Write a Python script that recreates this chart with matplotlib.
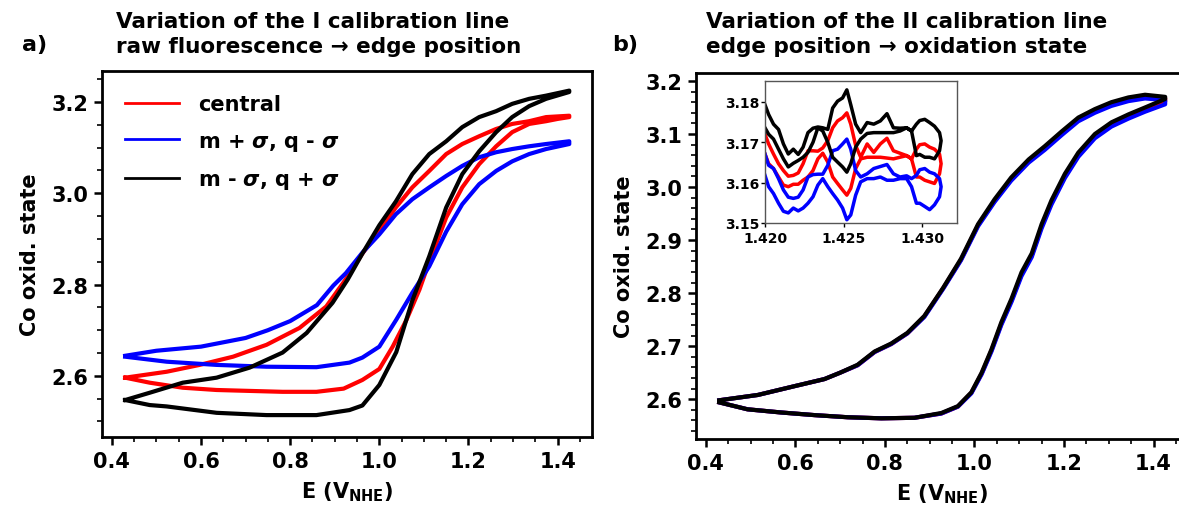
import numpy as np
import matplotlib
matplotlib.use("Agg")
import matplotlib.pyplot as plt
from matplotlib.ticker import MultipleLocator, FormatStrFormatter

plt.rcParams['font.family'] = ['DejaVu Sans']
plt.rcParams['font.weight'] = 'bold'
plt.rcParams['mathtext.fontset'] = 'custom'
plt.rcParams['mathtext.it'] = 'DejaVu Sans:bold:italic'
plt.rcParams['mathtext.bf'] = 'DejaVu Sans:bold'
plt.rcParams['mathtext.rm'] = 'DejaVu Sans:bold'

# ---------------- panel a: I calibration line ----------------
# forward branch (lower), then return branch (upper)
a_red_x = [0.43, 0.485, 0.559, 0.635, 0.709, 0.783, 0.859, 0.92, 0.962, 1.0, 1.03, 1.061,
           1.09, 1.112, 1.15, 1.186, 1.224, 1.262, 1.298, 1.336, 1.374, 1.40, 1.426,
           1.426, 1.374, 1.336, 1.298, 1.262, 1.224, 1.186, 1.15, 1.112, 1.074, 1.037,
           1.0, 0.962, 0.925, 0.881, 0.821, 0.747, 0.672, 0.597, 0.523, 0.43]
a_red_y = [2.596, 2.585, 2.574, 2.569, 2.567, 2.565, 2.565, 2.572, 2.591, 2.615, 2.664, 2.723,
           2.789, 2.850, 2.947, 3.013, 3.064, 3.103, 3.134, 3.152, 3.158, 3.163, 3.167,
           3.170, 3.167, 3.158, 3.152, 3.141, 3.125, 3.108, 3.086, 3.049, 3.013, 2.969,
           2.918, 2.868, 2.812, 2.752, 2.705, 2.668, 2.642, 2.624, 2.609, 2.596]

a_blue_x = [0.43, 0.523, 0.635, 0.747, 0.859, 0.933, 0.962, 1.0, 1.038, 1.074, 1.112, 1.15,
            1.186, 1.224, 1.262, 1.298, 1.336, 1.374, 1.426,
            1.426, 1.374, 1.336, 1.298, 1.262, 1.224, 1.186, 1.15, 1.112, 1.074, 1.037,
            1.0, 0.962, 0.925, 0.897, 0.86, 0.80, 0.75, 0.70, 0.60, 0.50, 0.43]
a_blue_y = [2.642, 2.631, 2.624, 2.620, 2.619, 2.629, 2.640, 2.664, 2.723, 2.782, 2.840, 2.916,
            2.976, 3.020, 3.049, 3.070, 3.086, 3.097, 3.108,
            3.114, 3.108, 3.103, 3.097, 3.090, 3.079, 3.060, 3.038, 3.013, 2.987, 2.954,
            2.910, 2.870, 2.825, 2.798, 2.755, 2.720, 2.700, 2.683, 2.664, 2.655, 2.644]

a_black_x = [0.43, 0.485, 0.523, 0.635, 0.747, 0.859, 0.933, 0.962, 1.0, 1.038, 1.074, 1.112,
             1.15, 1.186, 1.224, 1.262, 1.298, 1.336, 1.374, 1.426,
             1.426, 1.374, 1.336, 1.298, 1.262, 1.224, 1.186, 1.15, 1.112, 1.074, 1.037,
             1.0, 0.962, 0.929, 0.895, 0.837, 0.783, 0.709, 0.635, 0.559, 0.485, 0.43]
a_black_y = [2.547, 2.536, 2.533, 2.519, 2.514, 2.514, 2.525, 2.535, 2.580, 2.652, 2.765, 2.862,
             2.969, 3.042, 3.092, 3.134, 3.167, 3.191, 3.207, 3.222,
             3.225, 3.214, 3.207, 3.196, 3.180, 3.167, 3.145, 3.114, 3.086, 3.042, 2.982,
             2.930, 2.868, 2.811, 2.760, 2.694, 2.651, 2.618, 2.596, 2.585, 2.563, 2.547]

# ---------------- panel b: II calibration line ----------------
b_x = [0.43, 0.493, 0.568, 0.643, 0.717, 0.792, 0.866, 0.926, 0.963, 0.993, 1.016, 1.038,
       1.060, 1.083, 1.105, 1.128, 1.15, 1.172, 1.202, 1.232, 1.269, 1.306, 1.344, 1.381, 1.426,
       1.426, 1.381, 1.344, 1.306, 1.269, 1.232, 1.195, 1.157, 1.121, 1.082, 1.045, 1.008,
       0.970, 0.930, 0.888, 0.850, 0.814, 0.777, 0.739, 0.700, 0.665, 0.600, 0.516, 0.430]
b_black_y = [2.594, 2.581, 2.575, 2.570, 2.566, 2.564, 2.565, 2.574, 2.587, 2.613, 2.650, 2.694,
             2.745, 2.790, 2.839, 2.875, 2.930, 2.975, 3.025, 3.065, 3.100, 3.122, 3.137, 3.150, 3.166,
             3.170, 3.174, 3.169, 3.160, 3.147, 3.131, 3.105, 3.077, 3.052, 3.018, 2.977, 2.930,
             2.865, 2.810, 2.757, 2.725, 2.705, 2.690, 2.665, 2.650, 2.638, 2.625, 2.608, 2.598]
b_red_y = [2.594, 2.581, 2.575, 2.570, 2.566, 2.564, 2.565, 2.573, 2.586, 2.612, 2.648, 2.692,
           2.742, 2.787, 2.835, 2.871, 2.926, 2.971, 3.021, 3.061, 3.096, 3.118, 3.133, 3.146, 3.161,
           3.167, 3.170, 3.165, 3.156, 3.143, 3.127, 3.101, 3.073, 3.049, 3.015, 2.974, 2.928,
           2.863, 2.809, 2.756, 2.724, 2.704, 2.689, 2.664, 2.650, 2.638, 2.625, 2.608, 2.598]
b_blue_y = [2.594, 2.581, 2.575, 2.570, 2.566, 2.564, 2.565, 2.573, 2.586, 2.611, 2.647, 2.690,
            2.740, 2.784, 2.832, 2.868, 2.922, 2.967, 3.017, 3.057, 3.092, 3.114, 3.129, 3.142, 3.156,
            3.164, 3.167, 3.162, 3.153, 3.140, 3.124, 3.098, 3.070, 3.046, 3.012, 2.972, 2.926,
            2.862, 2.808, 2.755, 2.724, 2.704, 2.689, 2.664, 2.650, 2.638, 2.625, 2.608, 2.598]

# ---------------- inset: zoom on the turning point ----------------
ins_x = [1.42000, 1.42023, 1.42054, 1.42086, 1.42117, 1.42148, 1.42180, 1.42211, 1.42242, 1.42273,
         1.42305, 1.42336, 1.42367, 1.42399, 1.42430, 1.42461, 1.42493, 1.42520, 1.42545, 1.42576,
         1.42608, 1.42649, 1.42691, 1.42733, 1.42775, 1.42816, 1.42858, 1.42900, 1.42931, 1.42962,
         1.42983, 1.43015, 1.43046, 1.43077, 1.43109, 1.43119, 1.43109, 1.43077, 1.43046, 1.43015,
         1.42983, 1.42962,
         1.42931, 1.42900, 1.42858, 1.42816, 1.42775, 1.42733, 1.42691, 1.42649, 1.42608, 1.42576,
         1.42545, 1.42520, 1.42493, 1.42461, 1.42430, 1.42399, 1.42367, 1.42336, 1.42305, 1.42273,
         1.42242, 1.42211, 1.42180, 1.42148, 1.42117, 1.42086, 1.42054, 1.42023, 1.42000]
ins_black_y = [3.1736, 3.1720, 3.1708, 3.1683, 3.1659, 3.1639, 3.1648, 3.1655, 3.1663, 3.1675,
               3.1700, 3.1736, 3.1728, 3.1700, 3.1663, 3.1651, 3.1639, 3.1626, 3.1647, 3.1688,
               3.1708, 3.1722, 3.1724, 3.1724, 3.1724, 3.1724, 3.1728, 3.1736, 3.1728, 3.1667,
               3.1670, 3.1663, 3.1663, 3.1659, 3.1679, 3.1704, 3.1724, 3.1740, 3.1749, 3.1757,
               3.1754, 3.1745,
               3.1728, 3.1736, 3.1735, 3.1736, 3.1771, 3.1753, 3.1745, 3.1749, 3.1724, 3.1745,
               3.1793, 3.1830, 3.1810, 3.1802, 3.1785, 3.1732, 3.1736, 3.1738, 3.1735, 3.1724,
               3.1688, 3.1670, 3.1683, 3.1671, 3.1696, 3.1732, 3.1745, 3.1769, 3.1793]
ins_red_y = [3.1671, 3.1647, 3.1635, 3.1614, 3.1594, 3.1590, 3.1596, 3.1596, 3.1606, 3.1614,
             3.1630, 3.1659, 3.1673, 3.1651, 3.1614, 3.1598, 3.1582, 3.1569, 3.1586, 3.1635,
             3.1659, 3.1663, 3.1663, 3.1663, 3.1661, 3.1659, 3.1663, 3.1667, 3.1659, 3.1614,
             3.1614, 3.1606, 3.1602, 3.1598, 3.1622, 3.1647, 3.1671, 3.1683, 3.1688, 3.1696,
             3.1694, 3.1683,
             3.1659, 3.1667, 3.1673, 3.1679, 3.1710, 3.1696, 3.1675, 3.1696, 3.1663, 3.1692,
             3.1745, 3.1773, 3.1761, 3.1753, 3.1736, 3.1704, 3.1686, 3.1678, 3.1679, 3.1679,
             3.1647, 3.1624, 3.1618, 3.1616, 3.1630, 3.1647, 3.1671, 3.1696, 3.1720]
ins_blue_y = [3.1618, 3.1590, 3.1573, 3.1549, 3.1529, 3.1525, 3.1537, 3.1530, 3.1537, 3.1549,
              3.1565, 3.1594, 3.1610, 3.1590, 3.1573, 3.1557, 3.1537, 3.1508, 3.1520, 3.1569,
              3.1602, 3.1610, 3.1610, 3.1614, 3.1606, 3.1606, 3.1610, 3.1610, 3.1590, 3.1549,
              3.1549, 3.1541, 3.1533, 3.1545, 3.1565, 3.1590, 3.1610, 3.1622, 3.1626, 3.1635,
              3.1632, 3.1618,
              3.1610, 3.1617, 3.1614, 3.1622, 3.1645, 3.1640, 3.1635, 3.1622, 3.1614, 3.1630,
              3.1683, 3.1708, 3.1696, 3.1683, 3.1679, 3.1643, 3.1621, 3.1621, 3.1620, 3.1614,
              3.1582, 3.1564, 3.1561, 3.1564, 3.1582, 3.1610, 3.1635, 3.1643, 3.1671]

labels = ["central", r"m + $\sigma$, q - $\sigma$", r"m - $\sigma$, q + $\sigma$"]
colors = ["#ff0000", "#0000ff", "#000000"]

W, H = 1179, 510
fig = plt.figure(figsize=(W / 100, H / 100), dpi=100)
ax_a = fig.add_axes([102 / W, 1 - 438 / H, 490 / W, 366 / H])
ax_b = fig.add_axes([696 / W, 1 - 440 / H, 492 / W, 366 / H])


def style_main(ax, ymajor, yminor):
    ax.xaxis.set_major_locator(MultipleLocator(0.2))
    ax.xaxis.set_minor_locator(MultipleLocator(0.05))
    ax.yaxis.set_major_locator(MultipleLocator(ymajor))
    ax.yaxis.set_minor_locator(MultipleLocator(yminor))
    ax.xaxis.set_major_formatter(FormatStrFormatter('%.1f'))
    ax.yaxis.set_major_formatter(FormatStrFormatter('%.1f'))
    ax.tick_params(which='major', length=6, width=1.8, labelsize=15, pad=4)
    ax.tick_params(which='minor', length=3.5, width=1.2)
    for s in ax.spines.values():
        s.set_linewidth(2)
    ax.set_xlabel(r"E (V$_{\mathbf{NHE}}$)", fontsize=15, fontweight='bold', labelpad=6)
    ax.set_ylabel("Co oxid. state", fontsize=15, fontweight='bold', labelpad=8)
    ax.set_xlim(0.378, 1.477)


lw = 3.0
ax_a.plot(a_red_x, a_red_y, color=colors[0], lw=lw, label=labels[0])
ax_a.plot(a_blue_x, a_blue_y, color=colors[1], lw=lw, label=labels[1])
ax_a.plot(a_black_x, a_black_y, color=colors[2], lw=lw, label=labels[2])
style_main(ax_a, 0.2, 0.05)
ax_a.set_ylim(2.466, 3.268)
leg = ax_a.legend(loc='upper left', frameon=False, handlelength=2.6,
                  handletextpad=0.9, labelspacing=0.8, borderaxespad=0.7,
                  prop={'weight': 'bold', 'size': 15})
for h in leg.get_lines():
    h.set_linewidth(2)

ax_b.plot(b_x, b_red_y, color=colors[0], lw=lw)
ax_b.plot(b_x, b_blue_y, color=colors[1], lw=lw)
ax_b.plot(b_x, b_black_y, color=colors[2], lw=lw)
style_main(ax_b, 0.1, 0.02)
ax_b.set_ylim(2.525, 3.215)

# inset
ax_in = fig.add_axes([765 / W, 1 - 224 / H, 192 / W, 142 / H])
ax_in.plot(ins_x, ins_red_y, color=colors[0], lw=2.5)
ax_in.plot(ins_x, ins_blue_y, color=colors[1], lw=2.5)
ax_in.plot(ins_x, ins_black_y, color=colors[2], lw=2.5)
ax_in.set_xlim(1.420, 1.4322)
ax_in.set_ylim(3.15, 3.1852)
ax_in.set_xticks([1.420, 1.425, 1.430])
ax_in.set_yticks([3.15, 3.16, 3.17, 3.18])
ax_in.xaxis.set_major_formatter(FormatStrFormatter('%.3f'))
ax_in.yaxis.set_major_formatter(FormatStrFormatter('%.2f'))
ax_in.tick_params(labelsize=10, length=3, width=1)
ax_in.tick_params(axis='x', pad=3)
ax_in.tick_params(axis='y', pad=1)
for s in ax_in.spines.values():
    s.set_linewidth(1)
    s.set_color('#555555')

# titles and panel letters
fig.text(116 / W, 1 - 22 / H, "Variation of the I calibration line",
         fontsize=15.5, fontweight='bold', va='center', ha='left')
fig.text(116 / W, 1 - 47 / H, "raw fluorescence \u2192 edge position",
         fontsize=15.5, fontweight='bold', va='center', ha='left')
fig.text(706 / W, 1 - 22 / H, "Variation of the II calibration line",
         fontsize=15.5, fontweight='bold', va='center', ha='left')
fig.text(706 / W, 1 - 47 / H, "edge position \u2192 oxidation state",
         fontsize=15.5, fontweight='bold', va='center', ha='left')
fig.text(22 / W, 1 - 45 / H, "a)", fontsize=16, fontweight='bold', va='center', ha='left')
fig.text(612 / W, 1 - 45 / H, "b)", fontsize=16, fontweight='bold', va='center', ha='left')

fig.savefig("out.png", dpi=100)
